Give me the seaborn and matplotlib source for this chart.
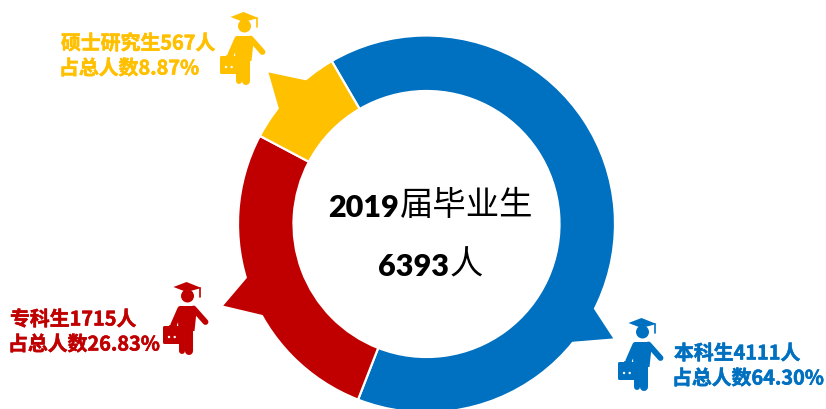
import numpy as np
import matplotlib
matplotlib.use("Agg")
import matplotlib.pyplot as plt
import matplotlib.patheffects as pe
from matplotlib.patches import Polygon, Circle, FancyBboxPatch
import seaborn as sns

# chart values
names = ['本科生', '专科生', '硕士研究生']
counts = [4111, 1715, 567]
shares = [64.30, 26.83, 8.87]
total = 6393
year = 2019
colors = ['#0070C0', '#C00000', '#FFC000']

# layout in pixels, y counted from the top of the picture
W, H = 826, 410
cx, cy = 426.5, 225
R_out, R_in = 188.5, 133
start_cw = -30.2
# callout spikes, clockwise degrees from 12 o'clock: base, tip, base
spikes = [(116.5, 121.5, 129.5), (240.4, 248.1, 253.7), (307.6, 313.8, 320.5)]
spike_tip_r = 219
icons = [(641.5, 319), (186.5, 283), (243.5, 13)]
labels_xy = [(674, 352), (10, 318), (61, 42)]

sns.set_theme(style='white')
plt.rcParams['font.family'] = ['Noto Sans CJK SC', 'DejaVu Sans']
palette = sns.color_palette(colors)


def py(y):
    return H - y


def polar_pt(angle, r):
    a = np.radians(angle)
    return cx + r * np.sin(a), py(cy - r * np.cos(a))


def draw_icon(ax, ox, oy, c):
    # little graduate figure, offsets from the top of the hat
    hat = [(-13, 5), (0, 0), (15, 6), (0, 10)]
    ax.add_patch(Polygon([(ox + x, py(oy + y)) for x, y in hat], color=c, lw=0))
    ax.plot([ox + 13.2, ox + 13.2], [py(oy + 6), py(oy + 15)], color=c, lw=1.2)
    ax.add_patch(Circle((ox + 1, py(oy + 14)), 6.5, color=c, lw=0))
    torso = [(-6, 24), (8, 24), (10, 30), (8, 49), (-8, 49), (-9, 30)]
    ax.add_patch(Polygon([(ox + x, py(oy + y)) for x, y in torso], color=c, lw=0))
    ax.plot([ox + 7, ox + 19], [py(oy + 26.5), py(oy + 40)], color=c, lw=4.2, solid_capstyle='round')
    ax.plot([ox - 6, ox - 13], [py(oy + 27), py(oy + 43)], color=c, lw=4.5, solid_capstyle='round')
    ax.plot([ox + 2.3, ox + 2.3], [py(oy + 47), py(oy + 69)], color=c, lw=5.8, solid_capstyle='round')
    ax.plot([ox - 4.8, ox - 4.8], [py(oy + 47), py(oy + 69)], color=c, lw=4.3, solid_capstyle='round')
    ax.plot([ox - 17, ox - 11], [py(oy + 43.5), py(oy + 43.5)], color=c, lw=1.5)
    ax.add_patch(FancyBboxPatch((ox - 22, py(oy + 60.5)), 16, 15, boxstyle='round,pad=1.5',
                                color=c, lw=0))
    ax.add_patch(Circle((ox - 17.5, py(oy + 55)), 1.2, color='white', lw=0))
    ax.add_patch(Circle((ox - 11.8, py(oy + 55)), 1.2, color='white', lw=0))


fig = plt.figure(figsize=(W / 100, H / 100), dpi=100)
ax = fig.add_axes([0, 0, 1, 1])

ax.pie(counts, colors=palette, center=(cx, py(cy)), radius=R_out, startangle=90 - start_cw,
       counterclock=False, frame=False,
       wedgeprops=dict(width=R_out - R_in, edgecolor='white', linewidth=1.6))

for (a0, tip, a1), c in zip(spikes, palette):
    pts = [polar_pt(a0, R_out - 3), polar_pt(tip, spike_tip_r), polar_pt(a1, R_out - 3)]
    ax.add_patch(Polygon(pts, color=c, lw=0))

for name, n, s, (ix, iy), (tx, ty), c in zip(names, counts, shares, icons, labels_xy, colors):
    draw_icon(ax, ix, iy, c)
    thick = [pe.withStroke(linewidth=0.4, foreground=c)]
    ax.text(tx, py(ty + 2), f'{name}{n}人', color=c, fontsize=14.3, fontweight='bold', va='center',
            ha='left', path_effects=thick)
    ax.text(tx - 2, py(ty + 27), f'占总人数{s:.2f}%', color=c, fontsize=14.3, fontweight='bold',
            va='center', ha='left', path_effects=thick)

# centre text, digits bold and hanzi light as in the original
ax.text(399, py(208), str(year), fontsize=22, fontweight='heavy', family='Lato', color='black',
        ha='right', va='center')
ax.text(400, py(206), '届毕业生', fontsize=24, color='black', ha='left', va='center')
ax.text(449, py(267), str(total), fontsize=22, fontweight='heavy', family='Lato', color='black',
        ha='right', va='center')
ax.text(450, py(265), '人', fontsize=24, color='black', ha='left', va='center')

ax.set_xlim(0, W)
ax.set_ylim(0, H)
ax.set_aspect('equal')
ax.axis('off')
fig.savefig('out.png', dpi=100)
